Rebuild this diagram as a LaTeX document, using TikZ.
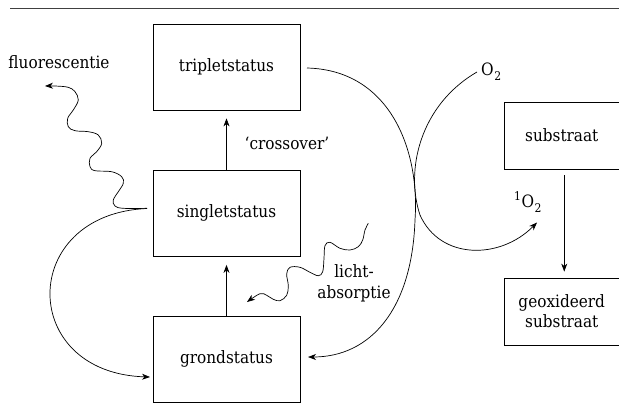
\documentclass[tikz,border=0pt]{standalone}
\usepackage{fontspec}
\setmainfont{DejaVu Serif Condensed}
\usetikzlibrary{arrows.meta}
\newcommand{\oxy}{O\kern0.6pt\raisebox{-5pt}{\fontsize{12}{12}\selectfont 2}}
\begin{document}
\begin{tikzpicture}[x=1pt,y=-1pt,
  font=\fontsize{17}{20}\selectfont,
  box/.style={draw, line width=0.8pt, minimum width=147pt, minimum height=86pt, inner sep=0pt},
  sbox/.style={draw, line width=0.8pt, minimum width=114.5pt, minimum height=67pt, inner sep=0pt, align=center},
  arr/.style={draw, line width=0.7pt, -{Stealth[length=8pt,width=6pt,inset=2.5pt]}},
  lbl/.style={inner sep=0pt, align=center}]
\useasboundingbox (0,0) rectangle (619,416);
\draw[line width=1.1pt, black!75] (10,8.5) -- (619,8.5);
\node[box] (trip) at (226.5,67) {tripletstatus};
\node[box] (sing) at (226.5,213) {singletstatus};
\node[box] (grond) at (226.5,359) {grondstatus};
\node[sbox] (sub) at (561.75,135.5) {substraat};
\node[sbox] (geox) at (561.75,311.5) {geoxideerd\\[0pt]substraat};
\node[lbl] (fl) at (59,62) {fluorescentie};
\node[lbl] (cross) at (287,143) {‘crossover’};
\node[lbl] (licht) at (354,283) {licht-\\[1pt]absorptie};
\node[lbl, anchor=west] (o2) at (481,72) {\oxy};
\node[lbl, anchor=west] (so2) at (514,202) {\raisebox{7pt}{\fontsize{12}{12}\selectfont 1}\kern0.5pt\oxy};
\draw[arr, shorten >=8pt] (sing) -- (trip);
\draw[arr, shorten >=8.5pt] (grond) -- (sing);
\draw[arr, shorten <=6pt, shorten >=6pt] ([xshift=2.5pt]sub.south) -- ([xshift=2.5pt]geox.north);
\coordinate (fstart) at (147,208.5);
\coordinate (gin) at (150,377);
\draw[arr] (fstart) .. controls (18,214) and (18,373) .. (gin);
\draw[arr] plot[smooth, tension=0.6] coordinates {(147,208.3) (123.3,208.3) (115,206) (113.3,200) (118.3,191.7) (123.3,183.3) (121.7,176.7) (111.7,171.7) (95,170.7) (90,166.7) (90,158.3) (96.7,151.7) (101.7,143.3) (98.3,135) (88.3,131.7) (75,130.7) (68.3,126.7) (67.7,118.3) (73.3,110) (78.3,100) (75,91.7) (68.3,87.3) (55,86) (45,86)};
\draw[arr] plot[smooth, tension=0.6] coordinates {(368.3,223.3) (365,230) (362.7,240) (358.3,246.7) (350,250) (340,248.3) (330,242.3) (325,245.7) (324,258.3) (322.7,271.7) (318.3,275.7) (310,272.3) (300,267.3) (290,267.3) (286.7,274) (288.3,285.7) (286.7,295.3) (280,300.7) (273.3,299.3) (266.7,295.3) (260,293.7) (247,302)};
\coordinate (tstart) at (307,68);
\coordinate (gtip) at (308,357);
\draw[arr] (tstart) .. controls (390,70) and (420,150) .. (415,220) .. controls (412,310) and (370,357) .. (gtip);
\coordinate (ostart) at (477,72);
\coordinate (otip) at (537,222.5);
\draw[arr] (ostart) .. controls (420,105) and (405,170) .. (420,215) .. controls (440,260) and (500,260) .. (otip);
\end{tikzpicture}
\end{document}
